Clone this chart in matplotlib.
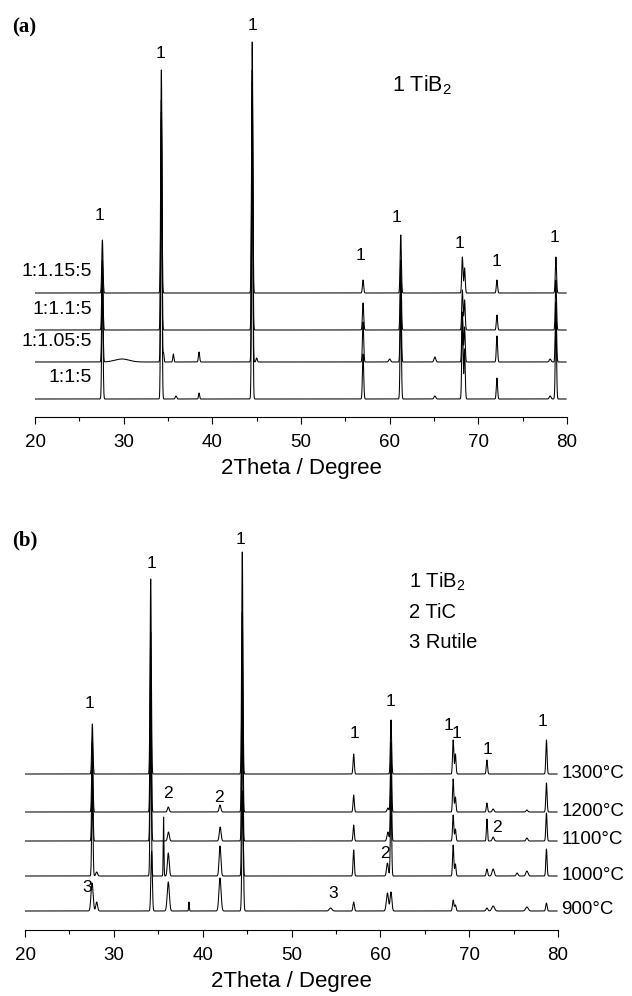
#!/usr/bin/env python3
import numpy as np
import matplotlib
matplotlib.use("Agg")
import matplotlib.pyplot as plt
from matplotlib.ticker import MultipleLocator

plt.rcParams['font.family'] = ['Liberation Sans', 'DejaVu Sans']
plt.rcParams['mathtext.default'] = 'regular'

# ---- panel (a): molar ratio series, peaks as (2theta, height, width)
a_names = ["1:1:5", "1:1.05:5", "1:1.1:5", "1:1.15:5"]
a_offsets = [18, 55, 87, 124]
a_peaks_1_1_5 = [(27.6, 120, .07), (34.25, 280, .07), (35.9, 3, .08), (38.5, 6, .06),
                 (44.5, 300, .07), (57.0, 45, .07), (61.25, 100, .07), (65.1, 3, .1),
                 (68.2, 80, .07), (68.45, 50, .07), (72.1, 21, .07), (78.1, 3, .1),
                 (78.75, 80, .07)]
a_peaks_1_105_5 = [(27.6, 90, .07), (29.8, 3, .8), (34.5, 9, .05), (35.6, 8, .06),
                   (38.5, 10, .07), (44.5, 280, .07), (45.0, 4, .07), (57.0, 40, .07),
                   (60.0, 3, .1), (61.25, 80, .07), (65.1, 5, .1), (68.2, 50, .07),
                   (68.45, 35, .07), (72.1, 26, .07), (78.1, 3, .1), (78.75, 60, .07),
                   (34.25, 250, .07)]
a_peaks_1_11_5 = [(27.6, 70, .07), (34.25, 230, .07), (44.5, 260, .07), (57.0, 27, .07),
                  (61.25, 70, .07), (68.2, 40, .07), (68.45, 30, .07), (72.1, 15, .07),
                  (78.75, 50, .07)]
a_peaks_1_115_5 = [(27.6, 53, .07), (34.25, 223, .07), (44.5, 251, .07), (57.0, 13, .07),
                   (61.25, 58, .07), (68.2, 36, .07), (68.45, 25, .07), (72.1, 13, .07),
                   (78.75, 36, .07)]
a_peaks = [a_peaks_1_1_5, a_peaks_1_105_5, a_peaks_1_11_5, a_peaks_1_115_5]
a_marks = [(27.3, 202, "1"), (34.2, 364, "1"), (44.5, 392, "1"), (56.7, 162, "1"),
           (60.8, 200, "1"), (67.9, 174, "1"), (72.1, 155, "1"), (78.6, 180, "1")]

# ---- panel (b): temperature series
b_names = ["900°C", "1000°C", "1100°C", "1200°C", "1300°C"]
b_offsets = [19, 54, 89, 118, 156]
b_peaks_900 = [(27.55, 28, .12), (28.07, 9, .1), (34.25, 60, .08), (36.13, 29, .12),
               (38.46, 9, .04), (41.95, 33, .12), (44.5, 120, .08), (54.4, 3, .15),
               (57.0, 9, .08), (60.8, 18, .12), (61.2, 19, .1), (68.2, 11, .08),
               (68.45, 6, .08), (72.0, 3, .1), (72.7, 5, .15), (76.5, 4, .15), (78.7, 8, .08)]
b_peaks_1000 = [(27.58, 90, .07), (28.07, 4, .1), (34.15, 150, .07), (35.6, 59, .04),
                (36.13, 23, .1), (41.95, 30, .1), (44.46, 170, .07), (57.0, 26, .07),
                (60.8, 13, .1), (61.2, 80, .07), (68.2, 31, .07), (68.45, 12, .07),
                (72.0, 7, .08), (72.7, 7, .12), (75.4, 3, .1), (76.5, 5, .12), (78.7, 27, .07)]
b_peaks_1100 = [(27.58, 80, .07), (34.15, 170, .07), (36.15, 9, .1), (41.97, 14, .1),
                (44.46, 180, .07), (57.0, 16, .07), (60.85, 9, .1), (61.2, 75, .07),
                (68.2, 26, .07), (68.45, 12, .07), (72.0, 22, .06), (72.7, 4, .1),
                (76.5, 3, .1), (78.7, 28, .07)]
b_peaks_1200 = [(27.58, 70, .07), (34.15, 180, .07), (36.13, 5, .1), (41.95, 7, .1),
                (44.46, 200, .07), (57.0, 17, .07), (60.85, 4, .1), (61.2, 70, .07),
                (68.2, 33, .07), (68.45, 15, .07), (72.0, 9, .07), (72.7, 3, .1),
                (76.5, 2, .1), (78.7, 29, .07)]
b_peaks_1300 = [(27.58, 50, .07), (34.15, 195, .07), (44.46, 222, .07), (57.0, 20, .07),
                (61.2, 54, .07), (68.2, 34, .07), (68.45, 20, .07), (72.0, 14, .07),
                (78.7, 34, .07)]
b_peaks = [b_peaks_900, b_peaks_1000, b_peaks_1100, b_peaks_1200, b_peaks_1300]
b_marks = [(27.3, 227, "1"), (34.2, 366, "1"), (44.3, 391, "1"), (57.1, 197, "1"),
           (61.1, 228, "1"), (67.7, 204, "1"), (68.6, 196, "1"), (72.1, 181, "1"),
           (78.3, 208, "1"), (36.1, 136, "2"), (41.8, 132, "2"), (60.5, 76, "2"),
           (73.1, 102, "2"), (27.0, 43, "3"), (54.7, 37, "3")]
b_legend = ["1 TiB$_2$", "2 TiC", "3 Rutile"]

two_theta = np.arange(20, 79.91, 0.01)


def pattern(peaks):
    y = np.zeros_like(two_theta)
    for pos, h, w in peaks:
        y += h * np.exp(-0.5 * ((two_theta - pos) / w) ** 2)
    return y


W, H = 632, 996
fig = plt.figure(figsize=(W / 100, H / 100), dpi=100)


def px_axes(left, right, top, bottom):
    return fig.add_axes([left / W, 1 - bottom / H, (right - left) / W, (bottom - top) / H])


def style(ax, ymax):
    ax.set_xlim(20, 80)
    ax.set_ylim(0, ymax)
    for s in ("left", "right", "top"):
        ax.spines[s].set_visible(False)
    ax.spines["bottom"].set_linewidth(0.8)
    ax.set_yticks([])
    ax.xaxis.set_major_locator(MultipleLocator(10))
    ax.xaxis.set_minor_locator(MultipleLocator(5))
    ax.tick_params(axis="x", which="major", length=5, width=0.8, pad=7, labelsize=13.5)
    ax.tick_params(axis="x", which="minor", length=3, width=0.8)
    ax.set_xlabel("2Theta / Degree", fontsize=16, labelpad=5)
    ax.patch.set_alpha(0)


ax_a = px_axes(35, 567, 0, 417)
style(ax_a, 417)
for off, pk in zip(a_offsets, a_peaks):
    ax_a.plot(two_theta, off + pattern(pk), color="k", lw=0.75)
for x, y, t in a_marks:
    ax_a.text(x, y, t, ha="center", va="center", fontsize=12.5, clip_on=False)
for off, name in zip(a_offsets, a_names):
    ax_a.text(26.4, off + 21, name, ha="right", va="center", fontsize=14)
ax_a.text(60.3, 332, "1 TiB$_2$", ha="left", va="center", fontsize=15.5)
fig.text(12 / W, 1 - 27 / H, "(a)", family="Liberation Serif", weight="bold",
         fontsize=15, va="center", ha="left")

ax_b = px_axes(25, 558, 500, 930)
style(ax_b, 430)
for off, pk in zip(b_offsets, b_peaks):
    ax_b.plot(two_theta, off + pattern(pk), color="k", lw=0.75)
for x, y, t in b_marks:
    ax_b.text(x, y, t, ha="center", va="center", fontsize=12.5, clip_on=False)
for off, name in zip(b_offsets, b_names):
    ax_b.text(80.4, off + 1, name, ha="left", va="center", fontsize=13.5, clip_on=False)
for i, t in enumerate(b_legend):
    ax_b.text(63.2, 348 - 30 * i, t, ha="left", va="center", fontsize=14.5)
fig.text(12 / W, 1 - 540 / H, "(b)", family="Liberation Serif", weight="bold",
         fontsize=15, va="center", ha="left")

fig.savefig("out.png", dpi=100)
